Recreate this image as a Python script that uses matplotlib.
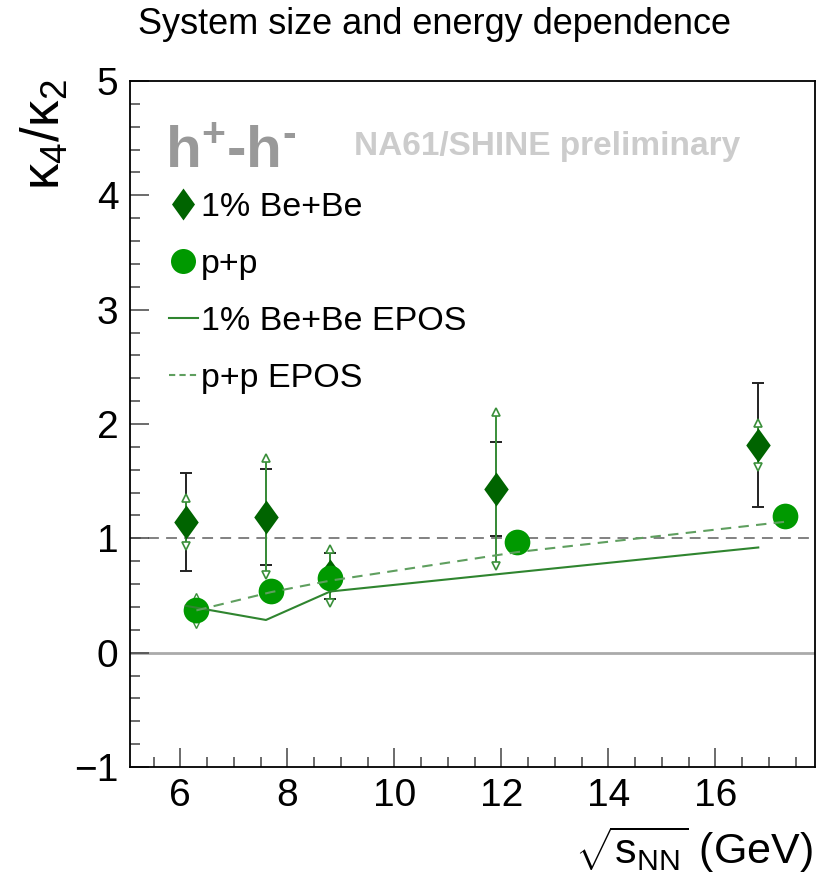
import matplotlib
matplotlib.use("Agg")
import matplotlib.pyplot as plt
from matplotlib.lines import Line2D
from matplotlib.ticker import MultipleLocator
import numpy as np

plt.rcParams['font.family'] = ['Liberation Sans', 'DejaVu Sans']
plt.rcParams['mathtext.fontset'] = 'custom'
plt.rcParams['mathtext.rm'] = 'Liberation Sans'
plt.rcParams['mathtext.it'] = 'Liberation Sans'
plt.rcParams['mathtext.bf'] = 'Liberation Sans:bold'
plt.rcParams['mathtext.default'] = 'regular'

# ---- data ----
bebe_x = [6.1, 7.6, 8.8, 11.9, 16.8]
bebe_y = [1.14, 1.19, 0.67, 1.43, 1.815]
bebe_stat = [0.43, 0.42, 0.20, 0.41, 0.545]
bebe_sys = [0.21, 0.515, 0.235, 0.675, 0.19]

pp_x = [6.3, 7.7, 8.8, 12.3, 17.3]
pp_y = [0.37, 0.54, 0.65, 0.97, 1.195]
pp_stat = [0.04, 0.04, 0.04, 0.04, 0.04]
pp_sys = [0.13, 0.06, 0.06, 0.06, 0.06]

epos_bebe_x = [6.1, 7.6, 8.8, 11.9, 16.8]
epos_bebe_y = [0.41, 0.286, 0.535, 0.685, 0.92]
epos_pp_x = [6.3, 7.7, 8.8, 12.3, 17.3]
epos_pp_y = [0.37, 0.53, 0.63, 0.88, 1.145]

legend_labels = ["1% Be+Be", "p+p", "1% Be+Be EPOS", "p+p EPOS"]

# ---- style ----
C_BEBE = '#006400'
C_PP = '#009900'
C_SYS = '#3a8f3a'
C_EPOS_BB = '#2f852f'
C_EPOS_PP = '#5f9f5f'

W, H = 823, 885
fig = plt.figure(figsize=(W / 100, H / 100), dpi=100)
ax = fig.add_axes([129.5 / W, 1 - 767 / H, (815 - 129.5) / W, (767 - 81) / H])
ax.set_xlim(5.05, 17.86)
ax.set_ylim(-1, 5)

diamond = [(0, 1), (0.72, 0), (0, -1), (-0.72, 0), (0, 1)]

# reference lines
ax.axhline(0, color='#aaaaaa', lw=2, zorder=1)
ax.axhline(1, color='#777777', lw=1.3, ls=(0, (6, 4)), zorder=1)

# Be+Be stat errors (black)
ax.errorbar(bebe_x, bebe_y, yerr=bebe_stat, fmt='none', ecolor='#222222',
            elinewidth=1.4, capsize=4.5, capthick=1.4, zorder=2)
# Be+Be sys (green with open triangles)
bx = np.array(bebe_x); by = np.array(bebe_y); bs = np.array(bebe_sys)
ax.vlines(bx, by - bs, by + bs, color=C_SYS, lw=1.4, zorder=3)
ax.plot(bx, by + bs, ls='none', marker='^', ms=6, mfc='white', mec=C_SYS, mew=1.2, zorder=3)
ax.plot(bx, by - bs, ls='none', marker='v', ms=6, mfc='white', mec=C_SYS, mew=1.2, zorder=3)

# p+p errors
px_ = np.array(pp_x); py_ = np.array(pp_y); ps = np.array(pp_sys)
ax.errorbar(pp_x, pp_y, yerr=pp_stat, fmt='none', ecolor='#222222', elinewidth=1.2, zorder=2)
ax.vlines(px_, py_ - ps, py_ + ps, color=C_SYS, lw=1.2, zorder=3)
ax.plot(px_, py_ + ps, ls='none', marker='^', ms=5, mfc='white', mec=C_SYS, mew=1.0, zorder=3)
ax.plot(px_, py_ - ps, ls='none', marker='v', ms=5, mfc='white', mec=C_SYS, mew=1.0, zorder=3)

# markers
ax.plot(bebe_x, bebe_y, ls='none', marker=diamond, ms=24.5, mfc=C_BEBE, mec=C_BEBE, mew=0, zorder=4)
ax.plot(pp_x, pp_y, ls='none', marker='o', ms=18.5, mfc=C_PP, mec=C_PP, mew=0, zorder=5)

# EPOS
ax.plot(epos_bebe_x, epos_bebe_y, color=C_EPOS_BB, lw=1.5, zorder=6)
ax.plot(epos_pp_x, epos_pp_y, color=C_EPOS_PP, lw=1.5, ls=(0, (5, 3.5)), zorder=6)

# axes style
for s in ['left', 'bottom', 'right', 'top']:
    ax.spines[s].set_linewidth(1.3)
    ax.spines[s].set_color('black')
ax.xaxis.set_major_locator(MultipleLocator(2))
ax.xaxis.set_minor_locator(MultipleLocator(0.5))
ax.yaxis.set_major_locator(MultipleLocator(1))
ax.yaxis.set_minor_locator(MultipleLocator(0.2))
ax.tick_params(which='both', direction='in', top=False, right=False, color='#444444', width=1.1)
ax.tick_params(which='major', length=14, labelsize=28, pad=8)
ax.tick_params(which='minor', length=7)
ax.set_yticks([-1, 0, 1, 2, 3, 4, 5])
ax.set_yticklabels(['\u22121', '0', '1', '2', '3', '4', '5'])
ax.set_xticks([6, 8, 10, 12, 14, 16])
ax.set_xticklabels(['6', '8', '10', '12', '14', '16'])

# texts
fig.text(434 / W, 1 - 24 / H, "System size and energy dependence", ha='center', va='center', fontsize=26)
fig.text(813 / W, 1 - 850 / H, r"$\sqrt{s_{NN}}$ (GeV)", ha='right', va='center', fontsize=31)
fig.text(45 / W, 1 - 79 / H, r"$\kappa_{4}/\kappa_{2}$", ha='center', va='top', rotation=90, fontsize=38)

fig.text(165 / W, 1 - 168 / H, "h$^{+}$-h$^{\u2010}$", fontsize=42, fontweight='bold',
         color='#999999', ha='left', va='baseline')
fig.text(547 / W, 1 - 146 / H, "NA61/SHINE preliminary", ha='center', va='center',
         fontsize=24, fontweight='bold', color='#cccccc')

handles = [
    Line2D([], [], ls='none', marker=diamond, ms=23, mfc=C_BEBE, mec=C_BEBE, mew=0),
    Line2D([], [], ls='none', marker='o', ms=18, mfc=C_PP, mec=C_PP, mew=0),
    Line2D([], [], color=C_EPOS_BB, lw=1.5),
    Line2D([], [], color=C_EPOS_PP, lw=1.5, ls=(0, (3, 2))),
]
leg = ax.legend(handles, legend_labels, loc='upper left', bbox_to_anchor=(169 / W, 1 - 192 / H),
                bbox_transform=fig.transFigure, frameon=False, fontsize=24.5, handlelength=0.85,
                handletextpad=0.1, labelspacing=0.76, borderpad=0, borderaxespad=0)

fig.savefig('out.png', dpi=100)
